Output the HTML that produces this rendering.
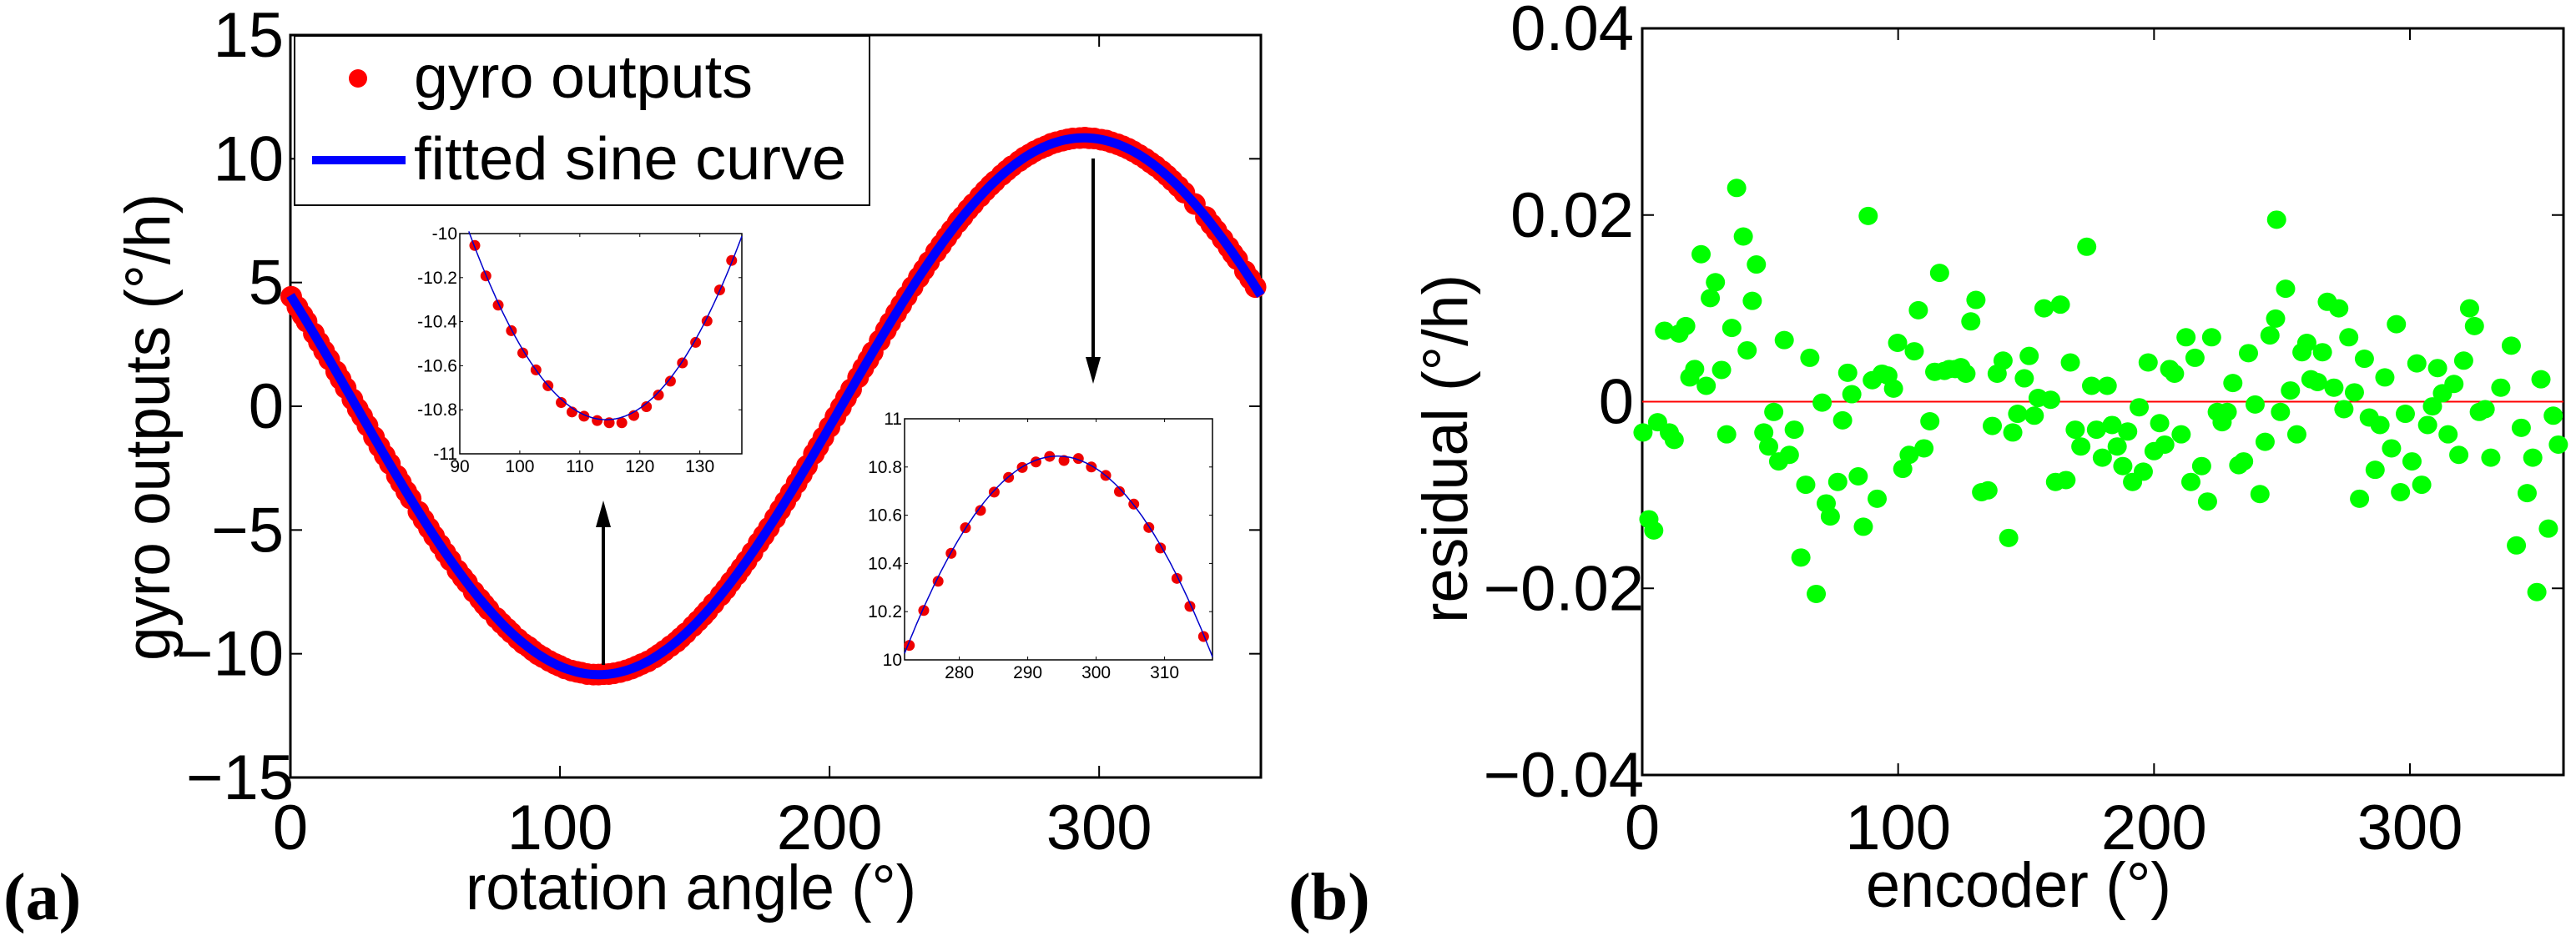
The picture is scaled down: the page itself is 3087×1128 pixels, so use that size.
<!DOCTYPE html>
<html><head><meta charset="utf-8"><style>
html,body{margin:0;padding:0;background:#fff}
svg{display:block}
text{fill:#000}
</style></head><body>
<svg id="fig" width="3087" height="1128" viewBox="0 0 3087 1128" xmlns="http://www.w3.org/2000/svg" font-family="Liberation Sans, sans-serif">
<g id="pa"></g>
<g id="pb"></g>
</svg>
<script>
// ---- data ----
const encoderDeg = [0.3,2.6,4.5,6,8.7,10.6,12.5,14.4,17,18.6,20.5,23,25,26.6,28.6,31,33,35,36.9,39.5,41,43,44.6,47.5,49.4,51.4,53.3,55.5,57.5,59.4,62,63.9,65.5,68,70.3,71.9,73.5,76.4,78.3,80.3,81.9,84.4,86.4,88.3,89.9,91.8,93.7,96,98.2,99.8,101.8,104.3,106.3,107.9,110.1,112.4,114.3,116.2,118.1,120,122.3,124.5,126.5,128.4,130.4,132.6,135.1,136.8,138.7,141,143.2,144.8,146.7,149.3,151.2,153.2,154.7,157,159.6,161.5,163.4,165.6,167.3,169.2,171.4,173.7,175.6,177.5,179.8,181.7,183.6,185.6,187.8,189.7,191.6,194.2,195.8,197.7,200,202.2,204.2,206.1,208,210.6,212.5,214.4,216,218.6,220.9,222.5,224.7,226.6,228.6,230.8,233.1,235,236.9,239.5,241.4,243.4,245.3,247.5,247.9,249.4,251.4,253.3,255.8,257.8,259.7,261.3,263.9,265.8,267.7,270.3,272.2,274.2,276.1,278.3,280.3,282.2,284.1,286.4,288.3,290.2,292.8,294.7,296.3,298.2,300.8,302.7,304.6,306.9,308.8,310.8,312.7,314.9,317.2,319.1,321,323.3,325.2,327.1,329.4,331.6,335.5,339.6,341.6,343.5,345.8,348,349.6,351.2,354.1,356,358];
const residualMilli = [-3.3,-12.6,-13.8,-2.2,7.6,-3.3,-4.1,7.3,8.1,2.6,3.5,15.8,1.7,11.1,12.8,3.4,-3.5,7.9,22.9,17.7,5.5,10.8,14.7,-3.3,-4.8,-1.1,-6.4,6.6,-5.7,-3.0,-16.7,-8.9,4.7,-20.6,-0.1,-10.9,-12.3,-8.6,-2.0,3.1,0.8,-8.0,-13.4,19.9,2.3,-10.4,3.0,2.8,1.4,6.3,-7.2,-5.7,5.4,9.8,-5.0,-2.1,3.2,13.8,3.3,3.5,3.5,3.7,3.0,8.6,10.9,-9.7,-9.5,-2.6,3.0,4.4,-14.6,-3.3,-1.3,2.5,4.9,-1.5,0.4,10.0,0.2,-8.6,10.4,-8.4,4.2,-3.0,-4.8,16.6,1.7,-3.0,-6.0,1.7,-2.5,-4.8,-6.9,-3.2,-8.6,-0.6,-7.5,4.2,-5.3,-2.3,-4.6,3.5,3.0,-3.5,6.9,-8.6,4.7,-6.9,-10.7,6.9,-1.1,-2.2,-1.1,2.0,-6.8,-6.4,5.2,-0.3,-9.9,-4.3,7.1,8.9,19.5,-1.1,12.1,1.2,-3.5,5.3,6.3,2.4,2.1,5.3,10.7,1.5,10.0,-0.8,6.9,1.0,-10.4,4.6,-1.7,-7.3,-2.5,2.6,-5.0,8.3,-9.7,-1.3,-6.4,4.1,-8.9,-2.5,-0.5,3.6,0.9,-3.5,1.9,-5.7,4.4,10.0,8.1,-1.1,-0.8,-6.0,1.5,6.0,-15.4,-2.8,-9.8,-6.0,-20.4,2.4,-13.6,-1.5,-4.6];
const fitAmplitude = 10.845;
const fitPhaseDeg = 204.4;
const fitOffset = 0;
const inset1X = [92.5,94.35,96.4,98.6,100.5,102.7,104.7,106.9,108.7,110.7,112.9,114.9,117.0,119.0,121.1,123.1,125.1,127.1,129.3,131.2,133.3,135.3];
const inset1Y = [-10.054,-10.192,-10.325,-10.441,-10.542,-10.619,-10.691,-10.767,-10.810,-10.829,-10.849,-10.859,-10.859,-10.826,-10.786,-10.733,-10.670,-10.587,-10.494,-10.397,-10.256,-10.122];
const inset2X = [272.7,274.8,276.9,278.8,280.9,283.1,285.1,287.2,289.2,291.2,293.2,295.3,297.4,299.3,301.4,303.4,305.5,307.7,309.4,311.8,313.7,315.7];
const inset2Y = [10.060,10.205,10.326,10.442,10.548,10.620,10.696,10.757,10.798,10.821,10.844,10.827,10.835,10.800,10.765,10.698,10.646,10.549,10.464,10.338,10.222,10.097];
const aXTicks = [0,100,200,300];
const aYTicks = [-15,-10,-5,0,5,10,15];
const bXTicks = [0,100,200,300];
const bYTicks = [-0.04,-0.02,0,0.02,0.04];
const bYTickLabels = ["\u22120.04","\u22120.02","0","0.02","0.04"];
const in1XTicks = [90,100,110,120,130];
const in1YTicks = [-11,-10.8,-10.6,-10.4,-10.2,-10];
const in1YLabels = ["-11","-10.8","-10.6","-10.4","-10.2","-10"];
const in2XTicks = [280,290,300,310];
const in2YTicks = [10,10.2,10.4,10.6,10.8,11];
const in2YLabels = ["10","10.2","10.4","10.6","10.8","11"];

const NS = "http://www.w3.org/2000/svg";
function mk(parent, tag, attrs, txt){
  const e = document.createElementNS(NS, tag);
  for (const k in attrs) e.setAttribute(k, attrs[k]);
  if (txt !== undefined) e.textContent = txt;
  parent.appendChild(e);
  return e;
}
function fit(x){ return fitOffset + fitAmplitude*Math.sin((x - fitPhaseDeg)*Math.PI/180); }
function fmtMinus(v){ return v < 0 ? "\u2212" + Math.abs(v) : String(v); }

// ===== Panel A =====
const pa = document.getElementById('pa');
const AL=348, AR=1511, AT=42, AB=932;
const ax = x => AL + x/360*(AR-AL);
const ay = y => AB - (y+15)/30*(AB-AT);
let e;
e = mk(pa,'rect',{x:AL,y:AT,width:AR-AL,height:AB-AT,fill:'none',stroke:'#000','stroke-width':3});
 
aXTicks.forEach(t=>{
  const X=ax(t);
  if(t>0){ mk(pa,'line',{x1:X,y1:AB,x2:X,y2:AB-14,stroke:'#000','stroke-width':2}); mk(pa,'line',{x1:X,y1:AT,x2:X,y2:AT+14,stroke:'#000','stroke-width':2}); }
  e = mk(pa,'text',{x:X,y:1018,'font-size':76,'text-anchor':'middle'},String(t));
   
});
aYTicks.forEach(t=>{
  const Y=ay(t);
  if(t>-15&&t<15){ mk(pa,'line',{x1:AL,y1:Y,x2:AL+14,y2:Y,stroke:'#000','stroke-width':2}); mk(pa,'line',{x1:AR,y1:Y,x2:AR-14,y2:Y,stroke:'#000','stroke-width':2}); }
  e = mk(pa,'text',{x:t===-15?352:340,y:Y+26,'font-size':76,'text-anchor':'end'},fmtMinus(t));
   
});
// gyro output markers
const gm = mk(pa,'g',{});
 
encoderDeg.forEach((x,i)=>{
  const v = fit(x) + residualMilli[i]/1000;
  e = mk(gm,'circle',{cx:ax(x),cy:ay(v),r:13,fill:'#f00'});
   
});
// fitted curve
let d='';
for(let x=0;x<=360;x+=1){ d += (x?'L':'M')+ax(x).toFixed(1)+','+ay(fit(x)).toFixed(1); }
e = mk(pa,'path',{d:d,fill:'none',stroke:'#00f','stroke-width':11});
 

// arrows
function arrow(x,y1,y2,name){
  const g = mk(pa,'g',{});
   
  const dir = y2>y1?1:-1;
  mk(g,'line',{x1:x,y1:y1,x2:x,y2:y2-dir*30,stroke:'#000','stroke-width':4});
  mk(g,'polygon',{points:`${x-9},${y2-dir*32} ${x+9},${y2-dir*32} ${x},${y2}`,fill:'#000'});
}
arrow(723,797,600,'arrow-up');
arrow(1310,190,460,'arrow-down');

// insets
function inset(L,R,T,B,x0,x1,y0,y1,xt,yt,ylab,xs,ys,name){
  const g = mk(pa,'g',{});
   
  const sx = x => L + (x-x0)/(x1-x0)*(R-L);
  const sy = y => B - (y-y0)/(y1-y0)*(B-T);
  mk(g,'rect',{x:L,y:T,width:R-L,height:B-T,fill:'#fff',stroke:'#000','stroke-width':1.5});
  xt.forEach(t=>{ const X=sx(t);
    mk(g,'line',{x1:X,y1:B,x2:X,y2:B-4,stroke:'#000','stroke-width':1});
    mk(g,'line',{x1:X,y1:T,x2:X,y2:T+4,stroke:'#000','stroke-width':1});
    e = mk(g,'text',{x:X,y:B+22,'font-size':21,'text-anchor':'middle'},String(t));
     
  });
  yt.forEach((t,i)=>{ const Y=sy(t);
    mk(g,'line',{x1:L,y1:Y,x2:L+4,y2:Y,stroke:'#000','stroke-width':1});
    mk(g,'line',{x1:R,y1:Y,x2:R-4,y2:Y,stroke:'#000','stroke-width':1});
    e = mk(g,'text',{x:L-3,y:Y+7,'font-size':21,'text-anchor':'end'},ylab[i]);
     
  });
  xs.forEach((x,i)=>{
    e = mk(g,'circle',{cx:sx(x),cy:sy(ys[i]),r:6.5,fill:'#e00'});
     
  });
  let dd='';
  for(let x=x0;x<=x1;x+=0.25){ const v=fit(x); if(v<y0-0.02||v>y1+0.02) continue; dd += (dd?'L':'M')+sx(x).toFixed(1)+','+sy(v).toFixed(1); }
  mk(g,'path',{d:dd,fill:'none',stroke:'#00c','stroke-width':1.5});
}
inset(551,889,280,544,90,137,-11,-10,in1XTicks,in1YTicks,in1YLabels,inset1X,inset1Y,'inset-minimum');
inset(1084,1453,502,791,272,317,10,11,in2XTicks,in2YTicks,in2YLabels,inset2X,inset2Y,'inset-maximum');

// legend
const lg = mk(pa,'g',{});
 
mk(lg,'rect',{x:353,y:43,width:689,height:203,fill:'#fff',stroke:'#000','stroke-width':2});
e = mk(lg,'circle',{cx:429,cy:94,r:11,fill:'#f00'});
 
e = mk(lg,'text',{x:496,y:117,'font-size':72,textLength:406,lengthAdjust:'spacingAndGlyphs'},'gyro outputs');
 
e = mk(lg,'line',{x1:374,y1:192,x2:486,y2:192,stroke:'#00f','stroke-width':10});
 
e = mk(lg,'text',{x:496,y:215,'font-size':72,textLength:518,lengthAdjust:'spacingAndGlyphs'},'fitted sine curve');
 

e = mk(pa,'text',{x:0,y:0,'font-size':76,'text-anchor':'middle',transform:'translate(203,512) rotate(-90)',textLength:560,lengthAdjust:'spacingAndGlyphs'},'gyro outputs (°/h)');
 
e = mk(pa,'text',{x:828,y:1090,'font-size':76,'text-anchor':'middle',textLength:540,lengthAdjust:'spacingAndGlyphs'},'rotation angle (°)');
 
e = mk(pa,'text',{x:4,y:1102,'font-size':80,style:'font-family:"Liberation Serif",serif;font-weight:bold'},'(a)');
 

// ===== Panel B =====
const pb = document.getElementById('pb');
const BL=1968, BR=3072, BT=34, BB=929;
const bx = x => BL + x/360*(BR-BL);
const by = y => BB - (y+0.04)/0.08*(BB-BT);
e = mk(pb,'rect',{x:BL,y:BT,width:BR-BL,height:BB-BT,fill:'none',stroke:'#000','stroke-width':3});
 
bXTicks.forEach(t=>{ const X=bx(t);
  if(t>0){ mk(pb,'line',{x1:X,y1:BB,x2:X,y2:BB-14,stroke:'#000','stroke-width':2}); mk(pb,'line',{x1:X,y1:BT,x2:X,y2:BT+14,stroke:'#000','stroke-width':2}); }
  e = mk(pb,'text',{x:X,y:1018,'font-size':76,'text-anchor':'middle'},String(t));
   
});
bYTicks.forEach((t,i)=>{ const Y=by(t);
  if(i>0&&i<bYTicks.length-1){ mk(pb,'line',{x1:BL,y1:Y,x2:BL+14,y2:Y,stroke:'#000','stroke-width':2}); mk(pb,'line',{x1:BR,y1:Y,x2:BR-14,y2:Y,stroke:'#000','stroke-width':2}); }
  e = mk(pb,'text',{x:t<0?1970:1958,y:Y+26,'font-size':76,'text-anchor':'end'},bYTickLabels[i]);
   
});
e = mk(pb,'line',{x1:BL,y1:by(0),x2:BR,y2:by(0),stroke:'#f00','stroke-width':2});
 
encoderDeg.forEach((x,i)=>{
  e = mk(pb,'ellipse',{cx:bx(x),cy:by(residualMilli[i]/1000),rx:11.5,ry:11,fill:'#0f0'});
   
});
e = mk(pb,'text',{x:0,y:0,'font-size':76,'text-anchor':'middle',transform:'translate(1758,538) rotate(-90)',textLength:418,lengthAdjust:'spacingAndGlyphs'},'residual (°/h)');
 
e = mk(pb,'text',{x:2419,y:1087,'font-size':76,'text-anchor':'middle',textLength:366,lengthAdjust:'spacingAndGlyphs'},'encoder (°)');
 
e = mk(pb,'text',{x:1544,y:1102,'font-size':80,style:'font-family:"Liberation Serif",serif;font-weight:bold'},'(b)');
 
</script>
</body></html>
